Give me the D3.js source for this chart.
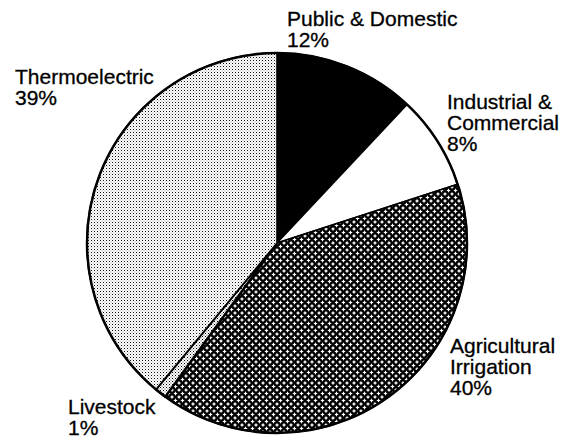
<!DOCTYPE html>
<meta charset="utf-8">
<style>
body { margin: 0; background: #fff; }
text { font-family: "Liberation Sans", Arial, sans-serif; font-size: 21px; fill: #000; stroke: #000; stroke-width: 0.3px; }
</style>
<body>
<div id="chart"></div>
<script src="https://cdnjs.cloudflare.com/ajax/libs/d3/7.8.5/d3.min.js"></script>
<script>
// slices, clockwise from 12 o'clock
var categories = ["Public & Domestic", "Industrial & Commercial", "Agricultural Irrigation", "Livestock", "Thermoelectric"];
var values = [12, 8, 40, 1, 39];
var labelLines = [
  ["Public & Domestic", "12%"],
  ["Industrial &", "Commercial", "8%"],
  ["Agricultural", "Irrigation", "40%"],
  ["Livestock", "1%"],
  ["Thermoelectric", "39%"]
];
var fills = ["#000", "#fff", "url(#cross)", "url(#dense)", "url(#stipple)"];

var width = 571, height = 439;
var cx = 277, cy = 243, radius = 190;

// where each label block starts (left x, first baseline y)
var labelPos = [[287, 26], [447, 109], [450, 353], [68, 414], [15, 84]];
var lineGap = 21;

var svg = d3.select("#chart").append("svg")
    .attr("width", width)
    .attr("height", height);

var defs = svg.append("defs");

// black with white little stars on a diagonal grid
var cross = defs.append("pattern")
    .attr("id", "cross")
    .attr("patternUnits", "userSpaceOnUse")
    .attr("width", 7).attr("height", 7);
cross.append("rect").attr("width", 7).attr("height", 7).attr("fill", "#000");
var star = "l0.7,1.5 l1.5,0.7 l-1.5,0.7 l-0.7,1.5 l-0.7,-1.5 l-1.5,-0.7 l1.5,-0.7 z";
[[0, 0], [7, 0], [0, 7], [7, 7], [3.5, 3.5]].forEach(function(p) {
  cross.append("path")
      .attr("d", "M" + p[0] + "," + (p[1] - 2.2) + star)
      .attr("fill", "#fff");
});

// light dotted grey
var stip = defs.append("pattern")
    .attr("id", "stipple")
    .attr("patternUnits", "userSpaceOnUse")
    .attr("width", 3).attr("height", 3);
stip.append("rect").attr("width", 3).attr("height", 3).attr("fill", "#fff");
stip.append("rect").attr("width", 1).attr("height", 1).attr("fill", "#111");
stip.append("rect").attr("x", 1.5).attr("y", 1.5).attr("width", 1).attr("height", 1).attr("fill", "#999");

// denser dots for the thin slice
var dense = defs.append("pattern")
    .attr("id", "dense")
    .attr("patternUnits", "userSpaceOnUse")
    .attr("width", 3).attr("height", 3);
dense.append("rect").attr("width", 3).attr("height", 3).attr("fill", "#fff");
dense.append("rect").attr("width", 1).attr("height", 1).attr("fill", "#000");
dense.append("rect").attr("x", 1.5).attr("y", 1.5).attr("width", 1).attr("height", 1).attr("fill", "#555");

var pie = d3.pie().sort(null).value(function(d) { return d; });
var arc = d3.arc().innerRadius(0).outerRadius(radius);

var g = svg.append("g")
    .attr("transform", "translate(" + cx + "," + cy + ")");

g.selectAll("path.slice")
    .data(pie(values))
  .enter().append("path")
    .attr("class", "slice")
    .attr("d", arc)
    .attr("fill", function(d, i) { return fills[i]; })
    .attr("stroke", "#000")
    .attr("stroke-width", function(d, i) { return i == 3 ? 2.4 : 1.6; })
    .attr("stroke-linejoin", "round");

// outer rim
g.append("circle")
    .attr("r", radius)
    .attr("fill", "none")
    .attr("stroke", "#000")
    .attr("stroke-width", 2.5);

// labels
labelLines.forEach(function(lines, i) {
  var t = svg.append("text")
      .attr("x", labelPos[i][0])
      .attr("y", labelPos[i][1]);
  lines.forEach(function(s, j) {
    t.append("tspan")
        .attr("x", labelPos[i][0])
        .attr("y", labelPos[i][1] + j * lineGap)
        .text(s);
  });
});
</script>
</body>
